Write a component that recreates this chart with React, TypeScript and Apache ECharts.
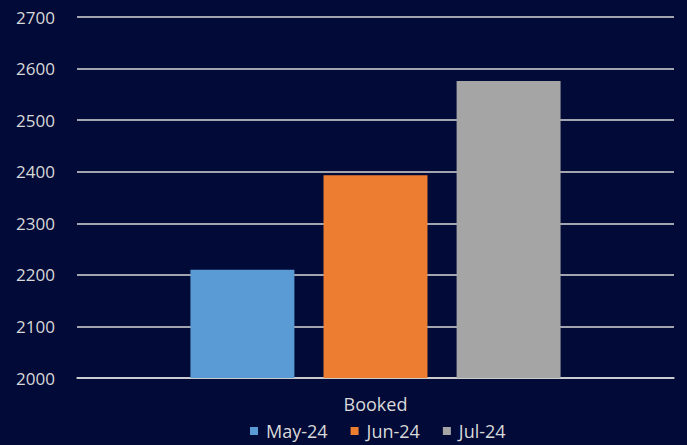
import React, { useEffect, useRef } from "react";
import * as echarts from "echarts";

const categories = ["Booked"];
const seriesNames = ["May-24", "Jun-24", "Jul-24"];
const seriesValues = [[2210], [2393], [2576]];
const colors = ["#5B9BD5", "#ED7D31", "#A5A5A5"];
const yMin = 2000;
const yMax = 2700;
const yInterval = 100;

export default function App() {
  const ref = useRef<HTMLDivElement>(null);
  useEffect(() => {
    if (!ref.current) return;
    const chart = echarts.init(ref.current, undefined, { renderer: "svg" });
    const textColor = "#D9D9D9";
    chart.setOption({
      animation: false,
      backgroundColor: "#020A38",
      grid: { left: 77, right: 13, top: 17, bottom: 67 },
      legend: {
        bottom: 0,
        left: 245,
        itemWidth: 8,
        itemHeight: 8,
        itemGap: 23,
        icon: "rect",
        textStyle: { color: textColor, fontSize: 18, fontFamily: "Open Sans", padding: [0, 0, 0, 3] },
        data: seriesNames,
      },
      xAxis: {
        type: "category",
        data: categories,
        axisLine: { show: true, lineStyle: { color: textColor, width: 1.5 } },
        axisTick: { show: false },
        axisLabel: { color: textColor, fontSize: 18, fontFamily: "Open Sans", margin: 17 },
      },
      yAxis: {
        type: "value",
        min: yMin,
        max: yMax,
        interval: yInterval,
        axisLine: { show: false },
        axisTick: { show: false },
        axisLabel: {
          color: textColor,
          fontSize: 17,
          fontFamily: "Open Sans",
          margin: 22,
          formatter: (v: number) => String(v),
        },
        splitLine: { lineStyle: { color: textColor, width: 1.5 } },
      },
      series: seriesNames.map((name, i) => ({
        name,
        type: "bar",
        data: seriesValues[i],
        itemStyle: { color: colors[i] },
        barGap: "28%",
        barCategoryGap: "38%",
      })),
    });
    return () => chart.dispose();
  }, []);
  return <div ref={ref} style={{ width: 687, height: 445, position: "absolute", left: 0, top: 0 }} />;
}
